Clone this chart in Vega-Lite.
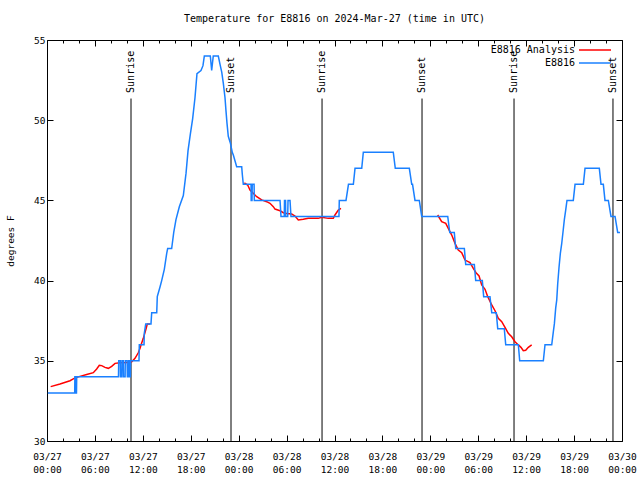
{
  "$schema": "https://vega.github.io/schema/vega-lite/v6.json",
  "width": 575,
  "height": 401,
  "autosize": {"type": "none"},
  "padding": {"left": 47, "top": 40, "right": 18, "bottom": 39},
  "background": "white",
  "title": {"text": "Temperature for E8816 on 2024-Mar-27 (time in UTC)", "font": "DejaVu Sans Mono", "fontSize": 10, "fontWeight": "normal", "color": "black", "anchor": "middle", "offset": 11},
  "config": {
    "font": "DejaVu Sans Mono",
    "view": {"stroke": "black", "strokeWidth": 1},
    "axis": {"grid": false, "domain": false, "labelFont": "DejaVu Sans Mono", "labelFontSize": 9.5, "labelColor": "black", "tickColor": "black", "tickWidth": 1, "titleFont": "DejaVu Sans Mono", "titleFontSize": 9.5, "titleFontWeight": "normal", "titleColor": "black"}
  },
  "datasets": {
    "sun": [
      {"event": "Sunrise", "hours": 10.52},
      {"event": "Sunset", "hours": 23.04},
      {"event": "Sunrise", "hours": 34.44},
      {"event": "Sunset", "hours": 46.96},
      {"event": "Sunrise", "hours": 58.48},
      {"event": "Sunset", "hours": 70.87}
    ],
    "analysis": [
      {"series": "E8816 Analysis", "seg": 1, "hours": 0.46, "temp": 33.39},
      {"series": "E8816 Analysis", "seg": 1, "hours": 1.63, "temp": 33.55},
      {"series": "E8816 Analysis", "seg": 1, "hours": 2.88, "temp": 33.76},
      {"series": "E8816 Analysis", "seg": 1, "hours": 3.29, "temp": 33.87},
      {"series": "E8816 Analysis", "seg": 1, "hours": 3.72, "temp": 33.97},
      {"series": "E8816 Analysis", "seg": 1, "hours": 4.13, "temp": 34.03},
      {"series": "E8816 Analysis", "seg": 1, "hours": 4.97, "temp": 34.15},
      {"series": "E8816 Analysis", "seg": 1, "hours": 5.80, "temp": 34.26},
      {"series": "E8816 Analysis", "seg": 1, "hours": 6.22, "temp": 34.49},
      {"series": "E8816 Analysis", "seg": 1, "hours": 6.55, "temp": 34.72},
      {"series": "E8816 Analysis", "seg": 1, "hours": 6.85, "temp": 34.70},
      {"series": "E8816 Analysis", "seg": 1, "hours": 7.26, "temp": 34.59},
      {"series": "E8816 Analysis", "seg": 1, "hours": 7.68, "temp": 34.53},
      {"series": "E8816 Analysis", "seg": 1, "hours": 8.10, "temp": 34.65},
      {"series": "E8816 Analysis", "seg": 1, "hours": 8.52, "temp": 34.84},
      {"series": "E8816 Analysis", "seg": 1, "hours": 9.14, "temp": 34.88},
      {"series": "E8816 Analysis", "seg": 1, "hours": 9.98, "temp": 34.90},
      {"series": "E8816 Analysis", "seg": 1, "hours": 10.61, "temp": 34.94},
      {"series": "E8816 Analysis", "seg": 1, "hours": 11.02, "temp": 35.15},
      {"series": "E8816 Analysis", "seg": 1, "hours": 11.43, "temp": 35.5},
      {"series": "E8816 Analysis", "seg": 1, "hours": 11.65, "temp": 35.78},
      {"series": "E8816 Analysis", "seg": 1, "hours": 11.77, "temp": 35.99},
      {"series": "E8816 Analysis", "seg": 1, "hours": 12.06, "temp": 36.4},
      {"series": "E8816 Analysis", "seg": 1, "hours": 12.36, "temp": 36.92},
      {"series": "E8816 Analysis", "seg": 1, "hours": 12.56, "temp": 37.29},
      {"series": "E8816 Analysis", "seg": 1, "hours": 12.90, "temp": 37.29},
      {"series": "E8816 Analysis", "seg": 2, "hours": 24.71, "temp": 46.1},
      {"series": "E8816 Analysis", "seg": 2, "hours": 25.13, "temp": 45.96},
      {"series": "E8816 Analysis", "seg": 2, "hours": 25.42, "temp": 45.65},
      {"series": "E8816 Analysis", "seg": 2, "hours": 25.83, "temp": 45.44},
      {"series": "E8816 Analysis", "seg": 2, "hours": 26.26, "temp": 45.23},
      {"series": "E8816 Analysis", "seg": 2, "hours": 26.88, "temp": 45.03},
      {"series": "E8816 Analysis", "seg": 2, "hours": 27.51, "temp": 44.92},
      {"series": "E8816 Analysis", "seg": 2, "hours": 27.92, "temp": 44.82},
      {"series": "E8816 Analysis", "seg": 2, "hours": 28.34, "temp": 44.61},
      {"series": "E8816 Analysis", "seg": 2, "hours": 28.55, "temp": 44.46},
      {"series": "E8816 Analysis", "seg": 2, "hours": 29.18, "temp": 44.36},
      {"series": "E8816 Analysis", "seg": 2, "hours": 29.59, "temp": 44.23},
      {"series": "E8816 Analysis", "seg": 2, "hours": 30.02, "temp": 44.19},
      {"series": "E8816 Analysis", "seg": 2, "hours": 30.64, "temp": 44.15},
      {"series": "E8816 Analysis", "seg": 2, "hours": 31.05, "temp": 44.03},
      {"series": "E8816 Analysis", "seg": 2, "hours": 31.47, "temp": 43.78},
      {"series": "E8816 Analysis", "seg": 2, "hours": 32.09, "temp": 43.82},
      {"series": "E8816 Analysis", "seg": 2, "hours": 32.72, "temp": 43.88},
      {"series": "E8816 Analysis", "seg": 2, "hours": 33.97, "temp": 43.88},
      {"series": "E8816 Analysis", "seg": 2, "hours": 34.40, "temp": 43.95},
      {"series": "E8816 Analysis", "seg": 2, "hours": 35.22, "temp": 43.88},
      {"series": "E8816 Analysis", "seg": 2, "hours": 35.85, "temp": 43.88},
      {"series": "E8816 Analysis", "seg": 2, "hours": 36.06, "temp": 44.09},
      {"series": "E8816 Analysis", "seg": 2, "hours": 36.48, "temp": 44.4},
      {"series": "E8816 Analysis", "seg": 2, "hours": 36.81, "temp": 44.5},
      {"series": "E8816 Analysis", "seg": 3, "hours": 48.92, "temp": 44.09},
      {"series": "E8816 Analysis", "seg": 3, "hours": 49.42, "temp": 43.67},
      {"series": "E8816 Analysis", "seg": 3, "hours": 49.93, "temp": 43.57},
      {"series": "E8816 Analysis", "seg": 3, "hours": 50.25, "temp": 43.26},
      {"series": "E8816 Analysis", "seg": 3, "hours": 50.68, "temp": 42.84},
      {"series": "E8816 Analysis", "seg": 3, "hours": 51.09, "temp": 42.32},
      {"series": "E8816 Analysis", "seg": 3, "hours": 51.50, "temp": 41.91},
      {"series": "E8816 Analysis", "seg": 3, "hours": 51.93, "temp": 41.74},
      {"series": "E8816 Analysis", "seg": 3, "hours": 52.34, "temp": 41.28},
      {"series": "E8816 Analysis", "seg": 3, "hours": 52.97, "temp": 41.12},
      {"series": "E8816 Analysis", "seg": 3, "hours": 53.38, "temp": 40.76},
      {"series": "E8816 Analysis", "seg": 3, "hours": 53.72, "temp": 40.49},
      {"series": "E8816 Analysis", "seg": 3, "hours": 54.10, "temp": 40.29},
      {"series": "E8816 Analysis", "seg": 3, "hours": 54.43, "temp": 39.73},
      {"series": "E8816 Analysis", "seg": 3, "hours": 54.85, "temp": 39.46},
      {"series": "E8816 Analysis", "seg": 3, "hours": 55.19, "temp": 39.0},
      {"series": "E8816 Analysis", "seg": 3, "hours": 55.69, "temp": 38.48},
      {"series": "E8816 Analysis", "seg": 3, "hours": 56.10, "temp": 38.12},
      {"series": "E8816 Analysis", "seg": 3, "hours": 56.51, "temp": 37.65},
      {"series": "E8816 Analysis", "seg": 3, "hours": 56.94, "temp": 37.44},
      {"series": "E8816 Analysis", "seg": 3, "hours": 57.35, "temp": 37.09},
      {"series": "E8816 Analysis", "seg": 3, "hours": 57.76, "temp": 36.71},
      {"series": "E8816 Analysis", "seg": 3, "hours": 58.19, "temp": 36.5},
      {"series": "E8816 Analysis", "seg": 3, "hours": 58.60, "temp": 36.19},
      {"series": "E8816 Analysis", "seg": 3, "hours": 59.02, "temp": 35.99},
      {"series": "E8816 Analysis", "seg": 3, "hours": 59.35, "temp": 35.84},
      {"series": "E8816 Analysis", "seg": 3, "hours": 59.64, "temp": 35.63},
      {"series": "E8816 Analysis", "seg": 3, "hours": 59.94, "temp": 35.66},
      {"series": "E8816 Analysis", "seg": 3, "hours": 60.27, "temp": 35.84},
      {"series": "E8816 Analysis", "seg": 3, "hours": 60.69, "temp": 35.99}
    ],
    "obs": [
      {"series": "E8816", "hours": 0.1, "temp": 33},
      {"series": "E8816", "hours": 3.47, "temp": 33},
      {"series": "E8816", "hours": 3.49, "temp": 34},
      {"series": "E8816", "hours": 3.59, "temp": 34},
      {"series": "E8816", "hours": 3.62, "temp": 33},
      {"series": "E8816", "hours": 3.69, "temp": 33},
      {"series": "E8816", "hours": 3.72, "temp": 34},
      {"series": "E8816", "hours": 8.95, "temp": 34},
      {"series": "E8816", "hours": 8.98, "temp": 35},
      {"series": "E8816", "hours": 9.18, "temp": 35},
      {"series": "E8816", "hours": 9.20, "temp": 34},
      {"series": "E8816", "hours": 9.37, "temp": 34},
      {"series": "E8816", "hours": 9.39, "temp": 35},
      {"series": "E8816", "hours": 9.55, "temp": 35},
      {"series": "E8816", "hours": 9.58, "temp": 34},
      {"series": "E8816", "hours": 9.78, "temp": 34},
      {"series": "E8816", "hours": 9.80, "temp": 35},
      {"series": "E8816", "hours": 10.03, "temp": 35},
      {"series": "E8816", "hours": 10.06, "temp": 34},
      {"series": "E8816", "hours": 10.21, "temp": 34},
      {"series": "E8816", "hours": 10.23, "temp": 35},
      {"series": "E8816", "hours": 10.37, "temp": 35},
      {"series": "E8816", "hours": 10.39, "temp": 34},
      {"series": "E8816", "hours": 10.43, "temp": 34},
      {"series": "E8816", "hours": 10.46, "temp": 35},
      {"series": "E8816", "hours": 11.52, "temp": 35},
      {"series": "E8816", "hours": 11.56, "temp": 36},
      {"series": "E8816", "hours": 12.15, "temp": 36},
      {"series": "E8816", "hours": 12.18, "temp": 36.7},
      {"series": "E8816", "hours": 12.36, "temp": 37.3},
      {"series": "E8816", "hours": 13.02, "temp": 37.3},
      {"series": "E8816", "hours": 13.11, "temp": 38},
      {"series": "E8816", "hours": 13.74, "temp": 38},
      {"series": "E8816", "hours": 13.81, "temp": 39},
      {"series": "E8816", "hours": 14.15, "temp": 39.6},
      {"series": "E8816", "hours": 14.36, "temp": 40},
      {"series": "E8816", "hours": 14.69, "temp": 40.7},
      {"series": "E8816", "hours": 14.99, "temp": 41.7},
      {"series": "E8816", "hours": 15.11, "temp": 42},
      {"series": "E8816", "hours": 15.61, "temp": 42},
      {"series": "E8816", "hours": 15.87, "temp": 43},
      {"series": "E8816", "hours": 16.15, "temp": 43.8},
      {"series": "E8816", "hours": 16.57, "temp": 44.6},
      {"series": "E8816", "hours": 17.07, "temp": 45.3},
      {"series": "E8816", "hours": 17.41, "temp": 46.7},
      {"series": "E8816", "hours": 17.66, "temp": 48.1},
      {"series": "E8816", "hours": 17.94, "temp": 49.1},
      {"series": "E8816", "hours": 18.24, "temp": 50.1},
      {"series": "E8816", "hours": 18.53, "temp": 51.4},
      {"series": "E8816", "hours": 18.78, "temp": 52.9},
      {"series": "E8816", "hours": 19.28, "temp": 53.1},
      {"series": "E8816", "hours": 19.53, "temp": 53.4},
      {"series": "E8816", "hours": 19.70, "temp": 54},
      {"series": "E8816", "hours": 20.45, "temp": 54},
      {"series": "E8816", "hours": 20.62, "temp": 53.1},
      {"series": "E8816", "hours": 20.82, "temp": 54},
      {"series": "E8816", "hours": 21.45, "temp": 54},
      {"series": "E8816", "hours": 21.70, "temp": 53.4},
      {"series": "E8816", "hours": 21.88, "temp": 53},
      {"series": "E8816", "hours": 22.08, "temp": 52.3},
      {"series": "E8816", "hours": 22.29, "temp": 51.4},
      {"series": "E8816", "hours": 22.41, "temp": 50.6},
      {"series": "E8816", "hours": 22.54, "temp": 49.8},
      {"series": "E8816", "hours": 22.70, "temp": 49},
      {"series": "E8816", "hours": 22.95, "temp": 48.6},
      {"series": "E8816", "hours": 23.20, "temp": 48},
      {"series": "E8816", "hours": 23.35, "temp": 47.8},
      {"series": "E8816", "hours": 23.75, "temp": 47.1},
      {"series": "E8816", "hours": 24.38, "temp": 47.1},
      {"series": "E8816", "hours": 24.46, "temp": 46.6},
      {"series": "E8816", "hours": 24.58, "temp": 46},
      {"series": "E8816", "hours": 25.55, "temp": 46},
      {"series": "E8816", "hours": 25.57, "temp": 45},
      {"series": "E8816", "hours": 25.67, "temp": 45},
      {"series": "E8816", "hours": 25.70, "temp": 46},
      {"series": "E8816", "hours": 25.93, "temp": 46},
      {"series": "E8816", "hours": 25.96, "temp": 45},
      {"series": "E8816", "hours": 29.18, "temp": 45},
      {"series": "E8816", "hours": 29.30, "temp": 44},
      {"series": "E8816", "hours": 29.71, "temp": 44},
      {"series": "E8816", "hours": 29.74, "temp": 45},
      {"series": "E8816", "hours": 29.87, "temp": 45},
      {"series": "E8816", "hours": 29.89, "temp": 44},
      {"series": "E8816", "hours": 30.14, "temp": 44},
      {"series": "E8816", "hours": 30.18, "temp": 45},
      {"series": "E8816", "hours": 30.43, "temp": 45},
      {"series": "E8816", "hours": 30.55, "temp": 44},
      {"series": "E8816", "hours": 36.56, "temp": 44},
      {"series": "E8816", "hours": 36.60, "temp": 45},
      {"series": "E8816", "hours": 37.44, "temp": 45},
      {"series": "E8816", "hours": 37.75, "temp": 46},
      {"series": "E8816", "hours": 38.36, "temp": 46},
      {"series": "E8816", "hours": 38.57, "temp": 47},
      {"series": "E8816", "hours": 39.41, "temp": 47},
      {"series": "E8816", "hours": 39.61, "temp": 48},
      {"series": "E8816", "hours": 43.36, "temp": 48},
      {"series": "E8816", "hours": 43.61, "temp": 47},
      {"series": "E8816", "hours": 45.37, "temp": 47},
      {"series": "E8816", "hours": 45.67, "temp": 46},
      {"series": "E8816", "hours": 45.77, "temp": 46},
      {"series": "E8816", "hours": 46.08, "temp": 45},
      {"series": "E8816", "hours": 46.62, "temp": 45},
      {"series": "E8816", "hours": 46.92, "temp": 44},
      {"series": "E8816", "hours": 50.18, "temp": 44},
      {"series": "E8816", "hours": 50.43, "temp": 43},
      {"series": "E8816", "hours": 51.00, "temp": 43},
      {"series": "E8816", "hours": 51.18, "temp": 42},
      {"series": "E8816", "hours": 52.26, "temp": 42},
      {"series": "E8816", "hours": 52.43, "temp": 41},
      {"series": "E8816", "hours": 53.51, "temp": 41},
      {"series": "E8816", "hours": 53.68, "temp": 40},
      {"series": "E8816", "hours": 54.51, "temp": 40},
      {"series": "E8816", "hours": 54.68, "temp": 39},
      {"series": "E8816", "hours": 55.47, "temp": 39},
      {"series": "E8816", "hours": 55.69, "temp": 38},
      {"series": "E8816", "hours": 56.26, "temp": 38},
      {"series": "E8816", "hours": 56.44, "temp": 37},
      {"series": "E8816", "hours": 57.26, "temp": 37},
      {"series": "E8816", "hours": 57.44, "temp": 36},
      {"series": "E8816", "hours": 59.02, "temp": 36},
      {"series": "E8816", "hours": 59.19, "temp": 35},
      {"series": "E8816", "hours": 62.15, "temp": 35},
      {"series": "E8816", "hours": 62.36, "temp": 36},
      {"series": "E8816", "hours": 63.20, "temp": 36},
      {"series": "E8816", "hours": 63.40, "temp": 36.8},
      {"series": "E8816", "hours": 63.53, "temp": 37.3},
      {"series": "E8816", "hours": 63.70, "temp": 38.3},
      {"series": "E8816", "hours": 63.83, "temp": 38.8},
      {"series": "E8816", "hours": 63.95, "temp": 39.8},
      {"series": "E8816", "hours": 64.11, "temp": 40.8},
      {"series": "E8816", "hours": 64.28, "temp": 41.7},
      {"series": "E8816", "hours": 64.45, "temp": 42.3},
      {"series": "E8816", "hours": 64.65, "temp": 43.2},
      {"series": "E8816", "hours": 64.78, "temp": 43.8},
      {"series": "E8816", "hours": 64.95, "temp": 44.4},
      {"series": "E8816", "hours": 65.11, "temp": 45},
      {"series": "E8816", "hours": 65.90, "temp": 45},
      {"series": "E8816", "hours": 66.12, "temp": 46},
      {"series": "E8816", "hours": 67.16, "temp": 46},
      {"series": "E8816", "hours": 67.37, "temp": 47},
      {"series": "E8816", "hours": 69.16, "temp": 47},
      {"series": "E8816", "hours": 69.37, "temp": 46},
      {"series": "E8816", "hours": 69.66, "temp": 46},
      {"series": "E8816", "hours": 69.87, "temp": 45},
      {"series": "E8816", "hours": 70.29, "temp": 45},
      {"series": "E8816", "hours": 70.62, "temp": 44},
      {"series": "E8816", "hours": 71.13, "temp": 44},
      {"series": "E8816", "hours": 71.26, "temp": 43.6},
      {"series": "E8816", "hours": 71.46, "temp": 43},
      {"series": "E8816", "hours": 71.75, "temp": 43}
    ]
  },
  "layer": [
    {
      "data": {"name": "sun"},
      "mark": {"type": "rule", "color": "black", "strokeWidth": 1},
      "encoding": {
        "x": {
          "field": "hours", "type": "quantitative",
          "scale": {"domain": [0, 72], "nice": false, "zero": false},
          "axis": {
            "orient": "bottom", "title": null,
            "values": [0,2,4,6,8,10,12,14,16,18,20,22,24,26,28,30,32,34,36,38,40,42,44,46,48,50,52,54,56,58,60,62,64,66,68,70,72],
            "labelExpr": "datum.value % 6 === 0 ? ['03/' + (27 + floor(datum.value / 24)), (datum.value % 24 < 10 ? '0' : '') + (datum.value % 24) + ':00'] : ''",
            "tickSize": {"condition": {"test": "datum.value % 6 === 0", "value": -6}, "value": -3},
            "labelOverlap": false, "labelFlush": false, "labelPadding": 16, "labelBaseline": "top", "labelLineHeight": 13
          }
        },
        "y": {
          "datum": 30, "type": "quantitative",
          "scale": {"domain": [30, 55], "nice": false, "zero": false},
          "axis": {"orient": "left", "values": [30,35,40,45,50,55], "tickSize": -6, "labelPadding": 8, "title": "degrees F", "titlePadding": 18}
        },
        "y2": {"datum": 51.35}
      }
    },
    {
      "data": {"name": "sun"},
      "mark": {"type": "text", "angle": 270, "align": "left", "baseline": "middle", "fontSize": 10, "font": "DejaVu Sans Mono", "color": "black"},
      "encoding": {
        "x": {"field": "hours", "type": "quantitative", "scale": {"domain": [0, 72], "nice": false, "zero": false}, "axis": null},
        "y": {"datum": 51.7, "type": "quantitative", "scale": {"domain": [30, 55], "nice": false, "zero": false}, "axis": null},
        "text": {"field": "event"}
      }
    },
    {
      "data": {"name": "analysis"},
      "mark": {"type": "line", "strokeWidth": 1.5},
      "encoding": {
        "x": {"field": "hours", "type": "quantitative", "scale": {"domain": [0, 72], "nice": false, "zero": false}, "axis": null},
        "y": {"field": "temp", "type": "quantitative", "scale": {"domain": [30, 55], "nice": false, "zero": false}, "axis": null},
        "detail": {"field": "seg"},
        "color": {
          "field": "series", "type": "nominal",
          "scale": {"domain": ["E8816 Analysis", "E8816"], "range": ["#ff0000", "#1a80ff"]},
          "legend": {"orient": "none", "legendX": 543, "legendY": 5, "title": null, "symbolType": "M-4,0H4", "symbolSize": 64, "symbolStrokeWidth": 1.5, "symbolFillColor": "transparent", "labelAlign": "right", "labelOffset": -25, "labelFontSize": 10, "labelFont": "DejaVu Sans Mono", "labelColor": "black", "rowPadding": 3}
        }
      }
    },
    {
      "data": {"name": "obs"},
      "mark": {"type": "line", "strokeWidth": 1.5},
      "encoding": {
        "x": {
          "field": "hours", "type": "quantitative", "scale": {"domain": [0, 72], "nice": false, "zero": false},
          "axis": {"orient": "top", "title": null, "labels": false,
            "values": [0,2,4,6,8,10,12,14,16,18,20,22,24,26,28,30,32,34,36,38,40,42,44,46,48,50,52,54,56,58,60,62,64,66,68,70,72],
            "tickSize": {"condition": {"test": "datum.value % 6 === 0", "value": -6}, "value": -3}}
        },
        "y": {
          "field": "temp", "type": "quantitative", "scale": {"domain": [30, 55], "nice": false, "zero": false},
          "axis": {"orient": "right", "title": null, "labels": false, "values": [30,35,40,45,50,55], "tickSize": -6}
        },
        "color": {"field": "series", "type": "nominal", "scale": {"domain": ["E8816 Analysis", "E8816"], "range": ["#ff0000", "#1a80ff"]}}
      }
    }
  ],
  "resolve": {"axis": {"x": "independent", "y": "independent"}}
}
